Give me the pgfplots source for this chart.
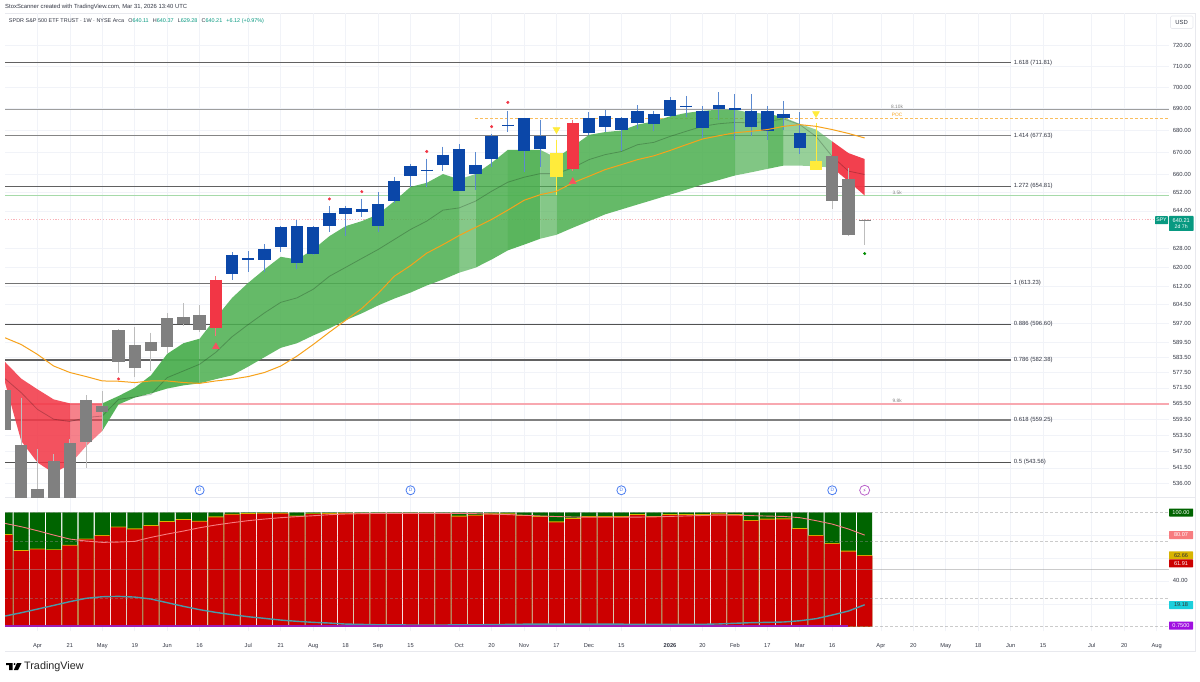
\documentclass[border=0pt]{standalone}
\usepackage{fontspec}
\setmainfont{Liberation Sans}
\newfontfamily\djv{DejaVu Sans}
\usepackage{pgfplots}
\usepackage{pgfplotstable}
\pgfplotsset{compat=1.18}
\definecolor{gridc}{HTML}{F1F3F8}
\definecolor{framec}{HTML}{E8E9EE}
\definecolor{txt}{HTML}{333744}
\definecolor{tvteal}{HTML}{089981}
\definecolor{cblue}{HTML}{0B47A8}
\definecolor{wblue}{HTML}{5C8AD0}
\definecolor{cgray}{HTML}{808080}
\definecolor{wgray}{HTML}{BDBDBD}
\definecolor{cred}{HTML}{F23645}
\definecolor{cyel}{HTML}{FFEB3B}
\definecolor{cgreen}{HTML}{4CAF50}
\definecolor{corange}{HTML}{F7A21B}
\definecolor{lgreen}{HTML}{A6DAA9}
\definecolor{lpink}{HTML}{F8A8B0}
\definecolor{dotpink}{HTML}{F8B4BA}
\definecolor{bred}{HTML}{CC0000}
\definecolor{bgreen}{HTML}{006400}
\definecolor{byel}{HTML}{D8B400}
\definecolor{lsma}{HTML}{F77C80}
\definecolor{lteal}{HTML}{4A9AA8}
\definecolor{lpurple}{HTML}{9C1FB5}
\definecolor{tagcyan}{HTML}{1CCFDC}
\definecolor{tagviolet}{HTML}{A010E0}
\definecolor{iconblue}{HTML}{4A7DF0}
\newcommand{\fs}[1]{\fontsize{#1}{#1}\selectfont}

% lower pane: red bar top, yellow bar top, green bar top, two oscillator lines
\pgfplotstableread{
i red yel grn sma teal
0 80.1 80.9 100 90.3 9.3
1 66.1 66.9 100 87.4 12.2
2 67.6 68.3 100 83.9 15.4
3 67 67.7 100 80.1 18.6
4 70.8 71.5 100 76.6 21.9
5 76.3 77 100 74.9 24.8
6 79.3 80 100 73.7 26.2
7 86.8 87.5 100 74 26.5
8 85.1 85.9 100 74.6 25.9
9 88 88.8 100 78.1 24.2
10 91.5 92.2 100 81 21
11 93.2 94 100 83.6 17.8
12 91.8 92.5 100 86.5 14.9
13 95.6 96.4 100 88.9 12.5
14 97.9 98.7 100 90.9 10.5
15 98.5 99.2 100 92.7 8.7
16 98.8 99.5 100 94.1 7.3
17 98.8 99.5 100 95.3 5.8
18 96.5 97.2 100 96.2 4.7
19 98.3 99 100 97 3.8
20 98.6 99.3 100 97.9 3.2
21 98.8 99.5 100 98.5 2.3
22 98.8 99.5 100 98.8 2
23 98.8 99.5 100 99 1.7
24 98.8 99.5 100 99 1.6
25 98.8 99.5 100 99 1.5
26 98.8 99.5 100 99 1.5
27 98.5 99.2 100 99 1.5
28 96.2 97 100 99 1.6
29 97 97.8 100 98.8 1.7
30 98.2 99 100 98.5 1.8
31 98.2 99 100 98 2
32 96.8 97.5 100 97.4 2.2
33 95.9 96.7 100 96.8 2.3
34 91.2 92 100 96.3 2.3
35 94.1 94.9 100 95.9 2.3
36 95.9 96.7 100 95.7 2.3
37 95.9 96.7 100 95.7 2.2
38 95.9 96.7 100 95.7 2.2
39 97.6 98.4 100 95.8 2.1
40 95.9 96.7 100 96 2.1
41 97.6 98.4 100 96.4 2
42 97.6 98.4 100 96.8 2
43 97.6 98.4 100 97.2 2.1
44 98.2 99 100 97.6 2.4
45 97.6 98.4 100 97.5 3
46 92.4 93.2 100 97.1 3.5
47 93.6 94.4 100 96.7 3.8
48 93.8 94.6 100 96.4 4.1
49 85.4 86.2 100 95.3 5.2
50 79.3 80.1 100 92.7 7
51 72.3 73.1 100 89.7 10.2
52 65.6 66.4 100 85.4 13.7
53 61.91 62.66 100 80.07 19.18
}\lowerbars

% price pane lines: orange average and grey basis
\pgfplotstableread{
i ora bas
0 591.2 575.1
1 588.5 569.7
2 584.6 563.3
3 580 559.6
4 577.5 558.7
5 575.9 560.2
6 574.2 560.8
7 574.1 567.1
8 573.6 568
9 574.2 569
10 574.2 575.5
11 573.6 578.1
12 573.3 580.7
13 574.2 585.4
14 574.9 591.6
15 575.9 596.5
16 577.5 601.2
17 580 605.5
18 583.9 607.3
19 588.5 610.8
20 593.4 616.2
21 598.2 619.9
22 603 623.7
23 609.1 627.4
24 616.2 631.7
25 620.7 636
26 625.9 639.6
27 629.5 644.3
28 633.4 645.3
29 636.8 648.2
30 640.3 652.6
31 644.3 656.6
32 648.6 658.8
33 651.1 660.4
34 652.6 660.4
35 656.3 663
36 659.2 666.7
37 662.2 668.9
38 664.4 670.3
39 666.7 673.4
40 668.4 674.5
41 670.8 677.2
42 673.4 679.5
43 676 681.8
44 677.5 683
45 678.8 683.6
46 679.5 683.4
47 680.3 684.1
48 681.8 685.2
49 682.6 682.6
50 681.8 677.2
51 680.3 668.1
52 678.5 661.5
53 676.5 660
}\pricelines

\begin{document}
\begin{tikzpicture}[x=1pt,y=1pt]
\path[use as bounding box,fill=white] (0,0) rectangle (1200,681);
% frame
\draw[framec,line width=0.8pt] (5,668) -- (1195,668) -- (1195,30) -- (5,30);
\draw[framec,line width=0.8pt] (5,183.6) -- (1195,183.6);

\begin{axis}[
  name=main, at={(5pt,183.4pt)}, anchor=south west, scale only axis,
  width=1164pt, height=484.1pt,
  xmin=0, xmax=71.763, ymode=log, ymin=530.8, ymax=735.8,
  unbounded coords=jump,
  axis line style={draw=none}, tick style={draw=none},
  xtick={2,4,6,8,10,12,15,17,19,21,23,25,28,30,32,34,36,38,41,43,45,47,49,51,54,56,58,60,62,64,67,69,71},
  xticklabels={},
  ytick={536,541.5,547.5,553.5,559.5,565.5,571.5,577.5,583.5,589.5,597,604.5,612,620,628,644,652,660,670,680,690,700,710,720},
  yticklabels={536.00,541.50,547.50,553.50,559.50,565.50,571.50,577.50,583.50,589.50,597.00,604.50,612.00,620.00,628.00,644.00,652.00,660.00,670.00,680.00,690.00,700.00,710.00,720.00},
  yticklabel pos=right,
  y tick label style={font=\fs{5.9},text=txt,anchor=west,inner xsep=0pt,xshift=3.6pt},
  grid=major, grid style={gridc,line width=0.6pt},
  clip=true,
  every axis plot/.append style={forget plot},
]
% horizontal levels, behind the cloud
\addplot[color=black!62,line width=1.5pt] coordinates {(0,711.81)(62,711.81)};
\addplot[color=black!48,line width=1.5pt] coordinates {(0,677.63)(62,677.63)};
\addplot[color=black!62,line width=1.3pt] coordinates {(0,654.81)(62,654.81)};
\addplot[color=black!55,line width=1.4pt] coordinates {(0,613.23)(62,613.23)};
\addplot[color=black!68,line width=1.4pt] coordinates {(0,596.60)(62,596.60)};
\addplot[color=black!62,line width=1.3pt] coordinates {(0,582.38)(62,582.38)};
\addplot[color=black!50,line width=1.4pt] coordinates {(0,559.25)(62,559.25)};
\addplot[color=black!68,line width=1.4pt] coordinates {(0,543.56)(62,543.56)};
\addplot[color=black!38,line width=1.5pt] coordinates {(0,689.7)(71.763,689.7)};
\addplot[draw=lgreen,line width=1.7pt] coordinates {(0,650.8)(71.763,650.8)};
\addplot[draw=lpink,line width=1.7pt] coordinates {(0,565.5)(71.763,565.5)};
\addplot[draw=dotpink,line width=1pt,dash pattern=on 1.2pt off 1.6pt] coordinates {(0,640.21)(71.763,640.21)};
\addplot[color=corange!70,line width=0.7pt,dash pattern=on 2.5pt off 2.5pt] coordinates {(29,685.7)(71.763,685.7)};

% red cloud, left part
\addplot[draw=none,fill=cred,fill opacity=.86] coordinates {(0,581.6)(1,575.1)(2,571)(3,567.1)(4,565.6)(4,542.8)(3,539.6)(2,543.5)(1,551.4)(0,573.6)} --cycle;
\addplot[draw=none,fill=cred,fill opacity=.62] coordinates {(4,565.6)(5,565.6)(6,565.6)(6,555.2)(5,549.5)(4,542.8)} --cycle;
% green cloud bands
\addplot[draw=none,fill=cgreen,fill opacity=.94] coordinates {(6,565.6)(7,568.4)(8,571.6)(9,576.4)(10,584.8)(11,589)(12,590.8)(12,573.3)(11,572.5)(10,571.3)(9,569.4)(8,567.8)(7,565.2)(6,555.2)} --cycle;
\addplot[draw=none,fill=cgreen,fill opacity=.86] coordinates {(12,590.8)(13,599.2)(14,607.3)(15,613.5)(16,619.1)(17,624.4)(18,623.2)(19,627.4)(20,633.1)(21,637.4)(22,639.6)(23,642.5)(24,648.2)(25,654.5)(26,656.3)(27,660.2)(28,657.8)(28,617.7)(27,614.9)(26,612.4)(25,609.5)(24,607)(23,604.2)(22,601)(21,598.2)(20,594.9)(19,592.1)(18,589)(17,587.2)(16,583.5)(15,579.8)(14,576.4)(13,574.9)(12,573.3)} --cycle;
\addplot[draw=none,fill=cgreen,fill opacity=.68] coordinates {(28,657.8)(29,660.2)(29,619.8)(28,617.7)} --cycle;
\addplot[draw=none,fill=cgreen,fill opacity=.86] coordinates {(29,660.2)(30,665.2)(31,671.1)(31,627.1)(30,623.2)(29,619.8)} --cycle;
\addplot[draw=none,fill=cgreen,fill opacity=.92] coordinates {(31,671.1)(32,671.1)(33,671.1)(33,632)(32,629.5)(31,627.1)} --cycle;
\addplot[draw=none,fill=cgreen,fill opacity=.68] coordinates {(33,671.1)(34,667.4)(34,633.7)(33,632)} --cycle;
\addplot[draw=none,fill=cgreen,fill opacity=.86] coordinates {(34,667.4)(35,672.6)(36,677.9)(37,679.2)(38,679.9)(39,682.6)(40,684.1)(41,686.4)(42,688)(43,689)(44,689.5)(45,689.5)(45,659.6)(44,657.5)(43,655.6)(42,653.3)(41,651.1)(40,648.9)(39,646.8)(38,644.6)(37,642.5)(36,639.6)(35,636.7)(34,633.7)} --cycle;
\addplot[draw=none,fill=cgreen,fill opacity=.7] coordinates {(45,689.5)(46,688)(47,687.7)(47,662.5)(46,661)(45,659.6)} --cycle;
\addplot[draw=none,fill=cgreen,fill opacity=.86] coordinates {(47,687.7)(48,686)(48,664)(47,662.5)} --cycle;
\addplot[draw=none,fill=cgreen,fill opacity=.58] coordinates {(48,686)(49,682.9)(50,680.3)(51,674.9)(51,663.1)(50,663.7)(49,664)(48,664)} --cycle;
% red cloud, right part
\addplot[draw=none,fill=cred,fill opacity=.95] coordinates {(51,674.9)(52,669.6)(53,666.9)(53,650.7)(52,657)(51,663.1)} --cycle;

% grey basis
\addplot[color=black,opacity=.22,line width=0.8pt] table[x=i,y=bas] {\pricelines};

% wicks
\addplot[color=wgray,line width=1pt] coordinates {
(1,567.8)(1,525)(1,nan)(2,548.3)(2,525)(2,nan)(3,546.5)(3,525)(3,nan)(4,552.1)(4,525)(4,nan)
(5,568.7)(5,541.6)(5,nan)(6,570.3)(6,555.8)(6,nan)(7,594.5)(7,577.2)(7,nan)(8,595.6)(8,575.8)(8,nan)
(9,593.2)(9,578.1)(9,nan)(10,601)(10,585.3)(10,nan)(11,605)(11,595.7)(11,nan)(12,604.3)(12,593.3)(12,nan)
(51,668.2)(51,644.6)(51,nan)(52,663)(52,633.1)(52,nan)(53,640.37)(53,629.28)};
\addplot[color=wblue,line width=1pt] coordinates {
(14,626.3)(14,614.9)(14,nan)(15,626.7)(15,618)(15,nan)(16,629.6)(16,618)(16,nan)(17,637.7)(17,626.2)(17,nan)
(18,639.9)(18,619.4)(18,nan)(19,637.5)(19,625.3)(19,nan)(20,646)(20,634.7)(20,nan)(21,646.3)(21,633.1)(21,nan)
(22,649.3)(22,641.5)(22,nan)(23,652.1)(23,634.8)(23,nan)(24,659)(24,647.5)(24,nan)(25,664.9)(25,654.5)(25,nan)
(26,667.1)(26,654.5)(26,nan)(27,672.5)(27,661.5)(27,nan)(28,673.7)(28,652.5)(28,nan)(29,670.1)(29,653)(29,nan)
(30,678.3)(30,663.2)(30,nan)(31,689)(31,679.1)(31,nan)(32,685.8)(32,661)(32,nan)(33,684.9)(33,663.2)(33,nan)
(36,688.3)(36,678)(36,nan)(37,689.2)(37,679.2)(37,nan)(38,686)(38,670.7)(38,nan)(39,691.6)(39,680.6)(39,nan)
(40,689)(40,679.5)(40,nan)(41,695.4)(41,686)(41,nan)(42,696)(42,685.9)(42,nan)(43,691)(43,676.3)(43,nan)
(44,697.6)(44,684.6)(44,nan)(45,696.9)(45,675.7)(45,nan)(46,696.8)(46,677.5)(46,nan)(47,691)(47,675.7)(47,nan)
(48,693.6)(48,680)(48,nan)(49,688.4)(49,669.3)};
\addplot[color=cred!70,line width=1pt] coordinates {(13,616.3)(13,591.8)(13,nan)(35,684.9)(35,661.5)};
\addplot[color=cyel,line width=1pt] coordinates {(34,675.7)(34,651.1)(34,nan)(50,683.4)(50,661.8)};

% candle bodies
\addplot[color=cgray,line width=12.3pt] coordinates {
(0,570.7)(0,555.4)(0,nan)(1,549.8)(1,525)(1,nan)(2,534)(2,525)(2,nan)(3,544)(3,525)(3,nan)(4,550.6)(4,525)(4,nan)
(5,566.7)(5,551.2)(5,nan)(6,564.4)(6,562.3)(6,nan)(7,594.1)(7,581.5)(7,nan)(8,588.1)(8,579.1)(8,nan)
(9,589.3)(9,585.8)(9,nan)(10,599)(10,587.7)(10,nan)(11,599.6)(11,596.7)(11,nan)(12,600.2)(12,594.1)(12,nan)
(51,668.1)(51,648.5)(51,nan)(52,657.8)(52,633.8)(52,nan)(53,640.21)(53,640.11)};
\addplot[color=cblue,line width=12.3pt] coordinates {
(14,625.3)(14,617.3)(14,nan)(15,623.8)(15,623)(15,nan)(16,627.7)(16,623.1)(16,nan)(17,637.2)(17,628.4)(17,nan)
(18,637.4)(18,621.6)(18,nan)(19,637.2)(19,625.6)(19,nan)(20,643.2)(20,637.3)(20,nan)(21,645.3)(21,642.5)(21,nan)
(22,645)(22,643.7)(22,nan)(23,647)(23,637.3)(23,nan)(24,657.2)(24,648.3)(24,nan)(25,663.6)(25,659.4)(25,nan)
(26,662.2)(26,661.5)(26,nan)(27,668.9)(27,664.3)(27,nan)(28,671.4)(28,652.8)(28,nan)(29,664.3)(29,660.4)(29,nan)
(30,677.2)(30,667)(30,nan)(31,682.6)(31,681.8)(31,nan)(32,685.7)(32,670.5)(32,nan)(33,677.2)(33,671.6)(33,nan)
(36,685.7)(36,678.5)(36,nan)(37,686.6)(37,681.5)(37,nan)(38,685.7)(38,680.3)(38,nan)(39,689)(39,683.5)(39,nan)
(40,687.3)(40,682.9)(40,nan)(41,693.8)(41,686.4)(41,nan)(42,691.4)(42,690.6)(42,nan)(43,689)(43,681.2)(43,nan)
(44,691.7)(44,690)(44,nan)(45,690.4)(45,689.5)(45,nan)(46,689)(46,681.4)(46,nan)(47,689)(47,679.8)(47,nan)
(48,687.7)(48,685.5)(48,nan)(49,678.5)(49,672)};
\addplot[color=cred,line width=12.3pt] coordinates {(13,614.9)(13,594.9)(13,nan)(35,683.2)(35,662.5)};
\addplot[color=cyel,line width=12.3pt] coordinates {(34,669.6)(34,658.9)(34,nan)(50,666.2)(50,661.8)};

% orange average
\addplot[color=corange,line width=1pt] table[x=i,y=ora] {\pricelines};

% signal marks
\addplot[only marks,mark=*,mark size=1.3pt,color=cred] coordinates {(7,575)(20,649.2)(22,652.4)(26,670.3)(30,681.7)(31,692.9)};
\addplot[only marks,mark=*,mark size=1.3pt,color=green!55!black] coordinates {(53,625.7)};
\addplot[only marks,mark=triangle*,mark size=4pt,color=cred!85!white] coordinates {(13,587.6)(35,656.9)};
\addplot[only marks,mark=triangle*,mark size=4pt,color=cyel,mark options={rotate=180}] coordinates {(34,680.3)(50,687.7)};

% level labels
\foreach \v/\t in {711.81/1.618 (711.81),677.63/1.414 (677.63),654.81/1.272 (654.81),613.23/1 (613.23),596.60/0.886 (596.60),582.38/0.786 (582.38),559.25/0.618 (559.25),543.56/0.5 (543.56)}{
  \edef\temp{\noexpand\node[anchor=west,inner xsep=3pt,inner ysep=0pt,font=\noexpand\fs{5.95},text=txt] at (axis cs:62,\v) {\t};}
  \temp
}
\node[anchor=south,inner sep=0.5pt,font=\fs{4.8},text=black!50] at (axis cs:55,689.9) {8.10k};
\node[anchor=south,inner sep=0.5pt,font=\fs{4.8},text=corange] at (axis cs:55,685.9) {POC};
\node[anchor=south,inner sep=0.5pt,font=\fs{4.8},text=black!50] at (axis cs:55,651) {3.5k};
\node[anchor=south,inner sep=0.5pt,font=\fs{4.8},text=black!50] at (axis cs:55,565.7) {9.8k};

% event icons
\foreach \k in {12,25,38,51}{
  \edef\temp{\noexpand\node[circle,draw=iconblue,fill=white,line width=0.8pt,inner sep=0pt,minimum size=9pt,font=\noexpand\fs{4.8},text=iconblue] at (axis cs:\k,533.4) {D};}
  \temp
}
\node[circle,draw=lpurple!70,fill=white,line width=0.8pt,inner sep=0pt,minimum size=10pt,font=\djv\fs{5},text=lpurple] at (axis cs:53,533.4) {⚡};
\end{axis}

\begin{axis}[
  name=lower, at={(5pt,50pt)}, anchor=south west, scale only axis,
  width=1164pt, height=133pt,
  xmin=0, xmax=71.763, ymin=-3.76, ymax=112.5,
  axis line style={draw=none}, tick style={draw=none},
  xtick={2,4,6,8,10,12,15,17,19,21,23,25,28,30,32,34,36,38,41,43,45,47,49,51,54,56,58,60,62,64,67,69,71},
  xticklabels={Apr,21,May,19,Jun,16,Jul,21,Aug,18,Sep,15,Oct,20,Nov,17,Dec,15,\textbf{2026},20,Feb,17,Mar,16,Apr,20,May,18,Jun,15,Jul,20,Aug},
  x tick label style={font=\fs{5.7},text=txt,anchor=center,text height=4.3pt,text depth=1pt,yshift=-15pt},
  ytick={20,40,60,80},
  yticklabels={{},40.00,{},{}},
  yticklabel pos=right,
  y tick label style={font=\fs{5.9},text=txt,anchor=west,inner xsep=0pt,xshift=3.6pt},
  grid=major, grid style={gridc,line width=0.6pt},
  clip=true,
  every axis plot/.append style={forget plot},
]
\addplot[ybar,bar width=15.0pt,bar shift=0pt,fill=bgreen,draw=none] table[x=i,y=grn] {\lowerbars};
\addplot[ybar,bar width=14.8pt,bar shift=0pt,fill=byel,draw=none] table[x=i,y=yel] {\lowerbars};
\addplot[ybar,bar width=15.2pt,bar shift=0pt,fill=bred,draw=none] table[x=i,y=red] {\lowerbars};
\addplot[color=black!45,opacity=.45,line width=0.7pt,dash pattern=on 2.5pt off 2.5pt] coordinates {(0,100)(71.763,100)};
\addplot[color=black!45,opacity=.45,line width=0.7pt,dash pattern=on 2.5pt off 2.5pt] coordinates {(0,75)(71.763,75)};
\addplot[color=black!45,opacity=.45,line width=0.7pt,dash pattern=on 2.5pt off 2.5pt] coordinates {(0,25)(71.763,25)};
\addplot[color=black!45,opacity=.45,line width=0.7pt,dash pattern=on 2.5pt off 2.5pt] coordinates {(0,0)(71.763,0)};
\addplot[color=black!40,opacity=.5,line width=0.8pt] coordinates {(0,50)(71.763,50)};
\addplot[color=lsma,line width=0.9pt] table[x=i,y=sma] {\lowerbars};
\addplot[color=lteal,line width=1.4pt] table[x=i,y=teal] {\lowerbars};
\addplot[color=lpurple,line width=1.6pt] coordinates {(0,0.75)(52,0.75)};
\end{axis}

% titles
\node[anchor=west,inner sep=0pt,font=\fs{5.9},text=txt] at (5,674) {StoxScanner created with TradingView.com, Mar 31, 2026 13:40 UTC};
\node[anchor=west,inner sep=0pt,font=\fs{5.45},text=txt] at (8.8,660.4) {SPDR S\&P 500 ETF TRUST · 1W · NYSE Arca\hspace{4.2pt}O\textcolor{tvteal}{640.11}\hspace{4.2pt}H\textcolor{tvteal}{640.37}\hspace{4.2pt}L\textcolor{tvteal}{629.28}\hspace{4.2pt}C\textcolor{tvteal}{640.21}\hspace{4.2pt}\textcolor{tvteal}{+6.12 (+0.97\%)}};

% scale tags
\draw[framec,fill=white,rounded corners=1.2pt,line width=0.6pt] (1170.5,665) rectangle (1193,652.5);
\node[font=\fs{5.9},text=txt,inner sep=0pt] at (1181.7,658.7) {USD};
\fill[tvteal,rounded corners=0.6pt] (1155,456.8) rectangle (1168,464.8);
\node[font=\fs{5.2},text=white,inner sep=0pt] at (1161.5,460.8) {SPY};
\fill[tvteal,rounded corners=0.6pt] (1169,450) rectangle (1193.5,465);
\node[font=\fs{5.6},text=white,inner sep=0pt] at (1181.2,460.8) {640.21};
\node[font=\fs{5.2},text=white,inner sep=0pt] at (1181.2,453.9) {2d 7h};

\newcommand{\pricetag}[4]{% colour, text colour, centre y, text
  \fill[#1,rounded corners=0.5pt] (1169,#3-4) rectangle (1193,#3+4);
  \node[font=\fs{5.6},text=#2,inner sep=0pt] at (1181,#3) {#4};}
\pricetag{bgreen}{white}{168.5}{100.00}
\pricetag{lsma}{white}{146}{80.07}
\pricetag{byel}{black!80}{125.7}{62.66}
\pricetag{bred}{white}{117.7}{61.91}
\pricetag{tagcyan}{black!80}{76}{19.18}
\pricetag{tagviolet}{white}{55.3}{0.7500}

% TradingView logo and name
\fill[black] (6,18) rectangle (12.6,16) (9,18) rectangle (12.6,11);
\fill[black] (14.6,17) circle (1.1);
\fill[black] (17,18) -- (21.5,18) -- (18,11) -- (13.8,11) -- cycle;
\node[anchor=west,inner sep=0pt,font=\fs{10.8},text=black!85] at (24,14.2) {TradingView};
\end{tikzpicture}
\end{document}
